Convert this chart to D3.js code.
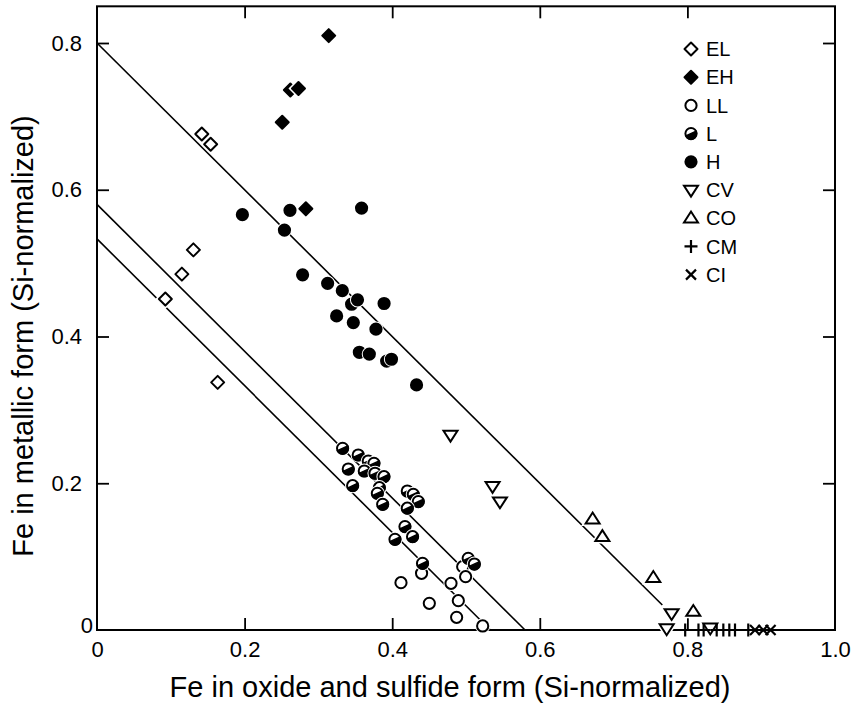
<!DOCTYPE html>
<html><head><meta charset="utf-8">
<script src="https://cdn.jsdelivr.net/npm/d3@7"></script>
<style>body{margin:0;background:#fff}svg{display:block}text{font-family:"Liberation Sans",Arial,Helvetica,sans-serif;fill:#000}</style>
</head><body>
<script>
// ---- data (x = Fe in oxide+sulfide, y = Fe metallic; Si-normalized) ----
const EL = [[0.142,0.676],[0.154,0.662],[0.1306,0.518],[0.115,0.485],[0.0926,0.451],[0.1635,0.3375]];
const EH = [[0.314,0.810],[0.262,0.736],[0.273,0.738],[0.251,0.692],[0.283,0.574]];
const LL = [[0.4398,0.0773],[0.4119,0.0645],[0.4797,0.0636],[0.4955,0.0863],[0.4995,0.0727],[0.4503,0.0363],[0.4896,0.040],[0.4873,0.0173],[0.5226,0.0055]];
const L  = [[0.3328,0.2476],[0.354,0.2385],[0.3676,0.2303],[0.3753,0.2272],[0.3405,0.2194],[0.3622,0.2167],[0.3767,0.2136],[0.3889,0.209],[0.3464,0.1967],[0.3826,0.194],[0.3799,0.1863],[0.3871,0.1713],[0.4205,0.1894],[0.4286,0.1849],[0.4354,0.175],[0.4205,0.166],[0.4173,0.1409],[0.4276,0.1272],[0.4038,0.1236],[0.4411,0.0908],[0.503,0.0977],[0.5113,0.0899]];
const H  = [[0.197,0.566],[0.2615,0.572],[0.254,0.545],[0.3585,0.575],[0.2786,0.484],[0.3125,0.4725],[0.3324,0.4625],[0.345,0.444],[0.353,0.450],[0.389,0.445],[0.3247,0.428],[0.3473,0.419],[0.378,0.410],[0.3555,0.3785],[0.369,0.376],[0.3925,0.3665],[0.399,0.369],[0.433,0.334]];
const CV = [[0.479,0.2658],[0.536,0.196],[0.546,0.175],[0.7786,0.0227],[0.7719,0.002],[0.831,0.003]];
const CO = [[0.6716,0.151],[0.6848,0.127],[0.7538,0.0713],[0.808,0.025]];
const CM = [[0.797,0],[0.815,0],[0.822,0],[0.8397,0],[0.8487,0],[0.8568,0],[0.8645,0],[0.8825,0]];
const CI = [[0.8916,0],[0.9028,0],[0.9127,0]];
const seriesNames = ["EL","EH","LL","L","H","CV","CO","CM","CI"];
const seriesData = [EL,EH,LL,L,H,CV,CO,CM,CI];
// fitted lines: [x1,y1,x2,y2] in data units
const fitLines = [[0,0.80,0.766,0.034],[0,0.58,0.58,0],[0,0.533,0.533,0]];
const xTicks = [0,0.2,0.4,0.6,0.8,1.0];
const xTickLabels = ["0","0.2","0.4","0.6","0.8","1.0"];
const yTicks = [0.2,0.4,0.6,0.8];
const yTickLabels = ["0.2","0.4","0.6","0.8"];
const yZeroLabel = "0";
const xTitle = "Fe in oxide and sulfide form (Si-normalized)";
const yTitle = "Fe in metallic form (Si-normalized)";

// ---- drawing ----
const W = 855, Ht = 704;
const svg = d3.select("body").append("svg").attr("width",W).attr("height",Ht);
const x = d3.scaleLinear().domain([0,1]).range([97,835]);
const y = d3.scaleLinear().domain([0,0.85]).range([630, 630-0.85*733.75]);

// frame
svg.append("rect").attr("x",x(0)).attr("y",y(0.85)).attr("width",x(1)-x(0)).attr("height",y(0)-y(0.85))
  .attr("fill","none").attr("stroke","#000").attr("stroke-width",2);

function styleAxis(g){ g.select(".domain").remove(); g.selectAll(".tick line").attr("stroke","#000").attr("stroke-width",1.8);
  g.selectAll("text").attr("font-size",22).attr("font-family",'"Liberation Sans",Arial,sans-serif').attr("fill","#000"); }
const inner = [0.2,0.4,0.6,0.8];
svg.append("g").attr("transform",`translate(0,${y(0)})`)
  .call(d3.axisBottom(x).tickValues(xTicks).tickSize(0).tickPadding(11).tickFormat((d,i)=>xTickLabels[i])).call(styleAxis);
svg.append("g").attr("transform",`translate(0,${y(0)})`)
  .call(d3.axisBottom(x).tickValues(inner).tickSize(-12).tickFormat("")).call(styleAxis);
svg.append("g").attr("transform",`translate(0,${y(0.85)})`)
  .call(d3.axisTop(x).tickValues(inner).tickSize(-12).tickFormat("")).call(styleAxis);
svg.append("g").attr("transform",`translate(${x(0)},0)`)
  .call(d3.axisLeft(y).tickValues(yTicks).tickSize(0).tickPadding(15).tickFormat((d,i)=>yTickLabels[i])).call(styleAxis);
svg.append("g").attr("transform",`translate(${x(0)},0)`)
  .call(d3.axisLeft(y).tickValues([0]).tickSize(0).tickPadding(4).tickFormat(()=>yZeroLabel)).call(styleAxis)
  .selectAll("text").attr("dy","0.1em");
svg.append("g").attr("transform",`translate(${x(0)},0)`)
  .call(d3.axisLeft(y).tickValues(inner).tickSize(-12).tickFormat("")).call(styleAxis);
svg.append("g").attr("transform",`translate(${x(1)},0)`)
  .call(d3.axisRight(y).tickValues(inner).tickSize(-12).tickFormat("")).call(styleAxis);

// titles
svg.append("text").attr("x",450).attr("y",697).attr("text-anchor","middle").attr("font-size",29).text(xTitle);
svg.append("text").attr("transform","translate(33,336) rotate(-90)").attr("text-anchor","middle").attr("font-size",29).text(yTitle);

// fit lines
svg.selectAll("line.fit").data(fitLines).join("line").attr("class","fit")
  .attr("x1",d=>x(d[0])).attr("y1",d=>y(d[1])).attr("x2",d=>x(d[2])).attr("y2",d=>y(d[3]))
  .attr("stroke","#000").attr("stroke-width",1.6);

// markers
function drawMarker(g, type, cx, cy, halo){
  const sw = 2;
  if(type==="EL"||type==="EH"){
    const s=6.5, p=`M${cx},${cy-s}L${cx+s},${cy}L${cx},${cy+s}L${cx-s},${cy}Z`;
    if(halo) g.append("path").attr("d",p).attr("fill","#fff").attr("stroke","#fff").attr("stroke-width",5);
    g.append("path").attr("d",p).attr("fill",type==="EH"?"#000":"#fff").attr("stroke","#000").attr("stroke-width",sw).attr("stroke-linejoin","round");
  } else if(type==="LL"||type==="H"||type==="L"){
    const r=5.6;
    if(halo) g.append("circle").attr("cx",cx).attr("cy",cy).attr("r",r).attr("fill","#fff").attr("stroke","#fff").attr("stroke-width",4);
    g.append("circle").attr("cx",cx).attr("cy",cy).attr("r",r).attr("fill",type==="H"?"#000":"#fff").attr("stroke","#000").attr("stroke-width",sw);
    if(type==="L"){
      const a=-25*Math.PI/180, x1=cx+r*Math.cos(a), y1=cy+r*Math.sin(a), x2=cx-r*Math.cos(a), y2=cy-r*Math.sin(a);
      g.append("path").attr("d",`M${x1},${y1}A${r},${r} 0 0 1 ${x2},${y2}Z`).attr("fill","#000").attr("stroke","#000").attr("stroke-width",1.5);
    }
  } else if(type==="CV"||type==="CO"){
    const s=7; const dn = type==="CV";
    const p = dn ? `M${cx-s},${cy-s*0.6}L${cx+s},${cy-s*0.6}L${cx},${cy+s*0.95}Z` : `M${cx-s},${cy+s*0.6}L${cx+s},${cy+s*0.6}L${cx},${cy-s*0.95}Z`;
    if(halo) g.append("path").attr("d",p).attr("fill","#fff").attr("stroke","#fff").attr("stroke-width",5);
    g.append("path").attr("d",p).attr("fill","#fff").attr("stroke","#000").attr("stroke-width",sw).attr("stroke-linejoin","miter");
  } else if(type==="CM"){
    const s=6.5;
    g.append("path").attr("d",`M${cx-s},${cy}H${cx+s}M${cx},${cy-s}V${cy+s}`).attr("stroke","#000").attr("stroke-width",2.2);
  } else if(type==="CI"){
    const s=5;
    g.append("path").attr("d",`M${cx-s},${cy-s}L${cx+s},${cy+s}M${cx-s},${cy+s}L${cx+s},${cy-s}`).attr("stroke","#000").attr("stroke-width",2.2);
  }
}
const mg = svg.append("g");
seriesNames.forEach((nm,i)=>{
  seriesData[i].forEach(d=>drawMarker(mg, nm, x(d[0]), y(d[1]), true));
});

// legend
const lg = svg.append("g");
seriesNames.forEach((nm,i)=>{
  const cy = 49 + i*28.2;
  drawMarker(lg, nm, 691, cy, false);
  lg.append("text").attr("x",706).attr("y",cy).attr("dy","0.36em").attr("font-size",20).text(nm);
});
</script>
</body></html>
